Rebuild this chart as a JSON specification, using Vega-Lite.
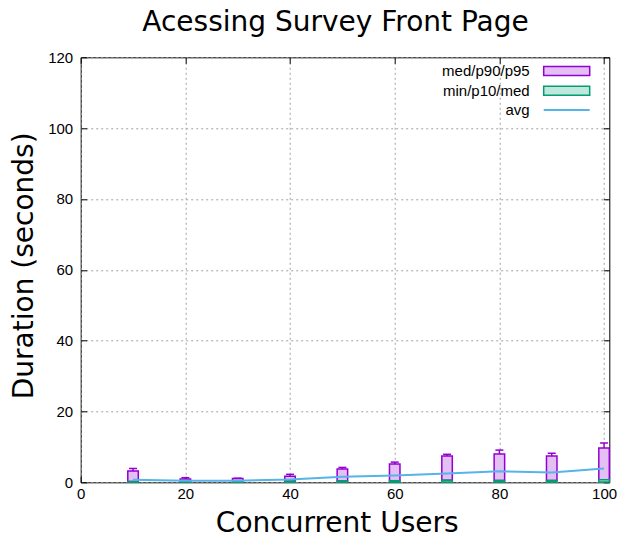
{
  "$schema": "https://vega.github.io/schema/vega-lite/v6.json",
  "width": 528.6,
  "height": 425,
  "autosize": {"type": "none"},
  "padding": {"left": 80.7, "top": 57.3, "right": 30.7, "bottom": 57.7},
  "background": "white",
  "config": {
    "view": {"stroke": "black", "strokeWidth": 1}
  },
  "datasets": {
    "stats": [
      {"users": 10, "min": 0.02, "p10": 0.05, "med": 0.2, "p90": 3.2, "p95": 3.9, "avg": 0.75},
      {"users": 20, "min": 0.02, "p10": 0.05, "med": 0.25, "p90": 0.95, "p95": 1.3, "avg": 0.45},
      {"users": 30, "min": 0.02, "p10": 0.05, "med": 0.3, "p90": 1.1, "p95": 1.15, "avg": 0.45},
      {"users": 40, "min": 0.02, "p10": 0.05, "med": 0.35, "p90": 1.7, "p95": 2.25, "avg": 0.8},
      {"users": 50, "min": 0.02, "p10": 0.05, "med": 0.4, "p90": 3.75, "p95": 4.2, "avg": 1.6},
      {"users": 60, "min": 0.02, "p10": 0.05, "med": 0.45, "p90": 5.15, "p95": 5.7, "avg": 1.95},
      {"users": 70, "min": 0.02, "p10": 0.05, "med": 0.6, "p90": 7.4, "p95": 7.9, "avg": 2.5},
      {"users": 80, "min": 0.02, "p10": 0.05, "med": 0.5, "p90": 8.0, "p95": 9.1, "avg": 3.1},
      {"users": 90, "min": 0.02, "p10": 0.05, "med": 0.5, "p90": 7.4, "p95": 8.2, "avg": 2.75},
      {"users": 100, "min": 0.02, "p10": 0.05, "med": 0.7, "p90": 9.7, "p95": 11.1, "avg": 3.9}
    ]
  },
  "data": {"name": "stats"},
  "layer": [
    {
      "mark": {"type": "bar", "orient": "vertical", "size": 10.5, "stroke": "#9400d3", "strokeWidth": 1.5},
      "encoding": {
        "x": {
          "field": "users", "type": "quantitative",
          "scale": {"domain": [0, 101], "nice": false, "zero": false, "padding": 0},
          "axis": {
            "orient": "bottom", "values": [0, 20, 40, 60, 80, 100],
            "grid": true, "gridColor": "#a0a0a0", "gridDash": [2, 3], "gridWidth": 1, "gridOpacity": 1,
            "domain": false, "tickSize": -6, "tickColor": "black", "tickWidth": 1,
            "labelFont": "Liberation Sans", "labelFontSize": 15, "labelColor": "black", "labelPadding": 10,
            "labelFlush": false, "labelOverlap": false,
            "title": "Concurrent Users", "titleFont": "DejaVu Sans", "titleFontSize": 28, "titleFontWeight": "normal",
            "titleColor": "black", "titleBaseline": "alphabetic", "titleX": 256, "titleY": 49
          }
        },
        "y": {
          "field": "med", "type": "quantitative",
          "scale": {"domain": [0, 120], "nice": false, "padding": 0},
          "axis": {
            "orient": "left", "values": [0, 20, 40, 60, 80, 100, 120],
            "grid": true, "gridColor": "#a0a0a0", "gridDash": [2, 3], "gridWidth": 1, "gridOpacity": 1,
            "domain": false, "tickSize": -6, "tickColor": "black", "tickWidth": 1,
            "labelFont": "Liberation Sans", "labelFontSize": 15, "labelColor": "black", "labelPadding": 14,
            "labelFlush": false, "labelOverlap": false,
            "title": "Duration (seconds)", "titleFont": "DejaVu Sans", "titleFontSize": 28, "titleFontWeight": "normal",
            "titleColor": "black", "titleBaseline": "alphabetic", "titleAngle": 270, "titleX": -48, "titleY": 208
          }
        },
        "y2": {"field": "p90"},
        "color": {
          "datum": "med/p90/p95", "type": "nominal",
          "scale": {"domain": ["med/p90/p95"], "range": ["#e4bff4"]},
          "legend": {
            "orient": "none", "legendX": 476, "legendY": 3.7, "title": null,
            "symbolType": "M-5.111,-1H5.111V1H-5.111Z", "symbolSize": 81, "symbolStrokeWidth": 1.5,
            "symbolStrokeColor": "#9400d3", "symbolFillColor": "#e4bff4", "symbolOpacity": 1,
            "labelFont": "Liberation Sans", "labelFontSize": 15, "labelColor": "black",
            "labelAlign": "right", "labelOffset": -44.5, "padding": 2.5,
            "fillColor": "white"
          }
        }
      }
    },
    {
      "mark": {"type": "rule", "stroke": "#9400d3", "strokeWidth": 1.5},
      "encoding": {
        "x": {
          "field": "users", "type": "quantitative",
          "axis": {
            "orient": "top", "values": [0, 20, 40, 60, 80, 100], "labels": false, "grid": false, "domain": false,
            "tickSize": -6, "tickColor": "black", "tickWidth": 1,
            "title": "Acessing Survey Front Page", "titleFont": "DejaVu Sans", "titleFontSize": 28, "titleFontWeight": "normal",
            "titleColor": "black", "titleBaseline": "alphabetic", "titleAngle": 0, "titleAlign": "center",
            "titleX": 254.3, "titleY": -27.3
          }
        },
        "y": {
          "field": "p90", "type": "quantitative",
          "axis": {"orient": "right", "values": [0, 20, 40, 60, 80, 100, 120], "labels": false, "grid": false, "domain": false, "tickSize": -6, "tickColor": "black", "tickWidth": 1, "title": null}
        },
        "y2": {"field": "p95"}
      }
    },
    {
      "mark": {"type": "tick", "orient": "horizontal", "size": 8, "thickness": 1.5, "color": "#9400d3", "opacity": 1},
      "encoding": {
        "x": {"field": "users", "type": "quantitative", "axis": null},
        "y": {"field": "p95", "type": "quantitative", "axis": null}
      }
    },
    {
      "mark": {"type": "rule", "stroke": "#009e73", "strokeWidth": 1.5},
      "encoding": {
        "x": {"field": "users", "type": "quantitative", "axis": null},
        "y": {"field": "min", "type": "quantitative", "axis": null},
        "y2": {"field": "p10"}
      }
    },
    {
      "mark": {"type": "bar", "orient": "vertical", "size": 10.5, "stroke": "#009e73", "strokeWidth": 1.5},
      "encoding": {
        "x": {"field": "users", "type": "quantitative", "axis": null},
        "y": {"field": "p10", "type": "quantitative", "axis": null},
        "y2": {"field": "med"},
        "fill": {
          "datum": "min/p10/med", "type": "nominal",
          "scale": {"domain": ["min/p10/med"], "range": ["#bfe7dc"]},
          "legend": {
            "orient": "none", "legendX": 476, "legendY": 23.4, "title": null,
            "symbolType": "M-5.111,-1H5.111V1H-5.111Z", "symbolSize": 81, "symbolStrokeWidth": 1.5,
            "symbolStrokeColor": "#009e73", "symbolFillColor": "#bfe7dc", "symbolOpacity": 1,
            "labelFont": "Liberation Sans", "labelFontSize": 15, "labelColor": "black",
            "labelAlign": "right", "labelOffset": -44.5, "padding": 2.5,
            "fillColor": "white"
          }
        }
      }
    },
    {
      "mark": {"type": "line", "strokeWidth": 2},
      "encoding": {
        "x": {"field": "users", "type": "quantitative", "axis": null},
        "y": {"field": "avg", "type": "quantitative", "axis": null},
        "stroke": {
          "datum": "avg", "type": "nominal",
          "scale": {"domain": ["avg"], "range": ["#56b4e9"]},
          "legend": {
            "orient": "none", "legendX": 476, "legendY": 42.7, "title": null,
            "symbolType": "M-5.111,0H5.111", "symbolSize": 81, "symbolStrokeWidth": 2,
            "symbolStrokeColor": "#56b4e9", "symbolOpacity": 1,
            "labelFont": "Liberation Sans", "labelFontSize": 15, "labelColor": "black",
            "labelAlign": "right", "labelOffset": -44.5, "padding": 2.5,
            "fillColor": "white"
          }
        }
      }
    }
  ],
  "resolve": {"axis": {"x": "independent", "y": "independent"}}
}
